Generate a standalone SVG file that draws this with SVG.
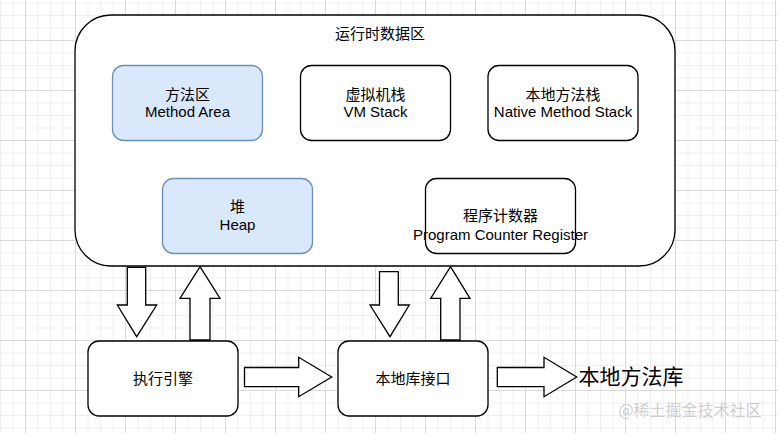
<svg xmlns="http://www.w3.org/2000/svg" width="778" height="433" viewBox="0 0 778 433">
<style>
.t{font-family:"Liberation Sans","Noto Sans CJK SC",Arial,sans-serif;font-size:15px;fill:#000;text-anchor:middle}
.box{fill:#fff;stroke:#000;stroke-width:1.3}
.blue{fill:#dae8fc;stroke:#6c8ebf;stroke-width:1.3}
.arr{fill:#fff;stroke:#000;stroke-width:1.3;stroke-linejoin:miter}
</style>
<defs>
<pattern id="grid" patternUnits="userSpaceOnUse" x="25" y="40" width="50" height="50">
<rect x="12.5" y="0" width="1" height="50" fill="#efefef"/>
<rect x="25" y="0" width="1" height="50" fill="#efefef"/>
<rect x="37.5" y="0" width="1" height="50" fill="#efefef"/>
<rect x="0" y="12.5" width="50" height="1" fill="#efefef"/>
<rect x="0" y="25" width="50" height="1" fill="#efefef"/>
<rect x="0" y="37.5" width="50" height="1" fill="#efefef"/>
<rect x="0" y="0" width="1" height="50" fill="#d9d9d9"/>
<rect x="0" y="0" width="50" height="1" fill="#d9d9d9"/>
</pattern>
</defs>
<rect width="778" height="433" fill="#fff"/>
<rect width="778" height="433" fill="url(#grid)"/>

<g id="runtime-data-area">
<rect class="box" x="75" y="15" width="600" height="251" rx="36" ry="36"/>
<text class="t" x="380" y="39">运行时数据区</text>
</g>
<g id="method-area">
<rect class="blue" x="112.5" y="65.5" width="150" height="75" rx="11" ry="11"/>
<text class="t" x="187.5" y="100">方法区</text>
<text class="t" x="187.5" y="117">Method Area</text>
</g>
<g id="vm-stack">
<rect class="box" x="300.5" y="65.5" width="150" height="75" rx="11" ry="11"/>
<text class="t" x="375.5" y="100">虚拟机栈</text>
<text class="t" x="375.5" y="117">VM Stack</text>
</g>
<g id="native-method-stack">
<rect class="box" x="488" y="65.5" width="150" height="75" rx="11" ry="11"/>
<text class="t" x="563" y="100">本地方法栈</text>
<text class="t" x="563" y="117">Native Method Stack</text>
</g>
<g id="heap">
<rect class="blue" x="162.5" y="178.5" width="150" height="75" rx="11" ry="11"/>
<text class="t" x="237.5" y="212">堆</text>
<text class="t" x="237.5" y="230">Heap</text>
</g>
<g id="program-counter">
<rect class="box" x="425.5" y="178.5" width="150" height="75" rx="11" ry="11"/>
<text class="t" x="500.5" y="221">程序计数器</text>
<text class="t" x="500.5" y="240">Program Counter Register</text>
</g>
<g id="execution-engine">
<rect class="box" x="88" y="341" width="150" height="75" rx="11" ry="11"/>
<text class="t" x="163" y="384">执行引擎</text>
</g>
<g id="native-interface">
<rect class="box" x="338" y="341" width="150" height="75" rx="11" ry="11"/>
<text class="t" x="413" y="384">本地库接口</text>
</g>
<g id="native-library">
<text x="631" y="384" style="font-family:'Liberation Sans','Noto Sans CJK SC',sans-serif;font-size:21px;fill:#000;text-anchor:middle">本地方法库</text>
</g>

<g id="connectors">
<polygon class="arr" points="127.3,267.3 145.7,267.3 145.7,305 156.7,305 136.7,336.7 117.3,305 127.3,305"/>
<polygon class="arr" points="200,266.7 220,298.3 210,298.3 210,340 190,340 190,298.3 180,298.3"/>
<polygon class="arr" points="379.5,271.7 398.3,271.7 398.3,305 409.3,305 390,336.7 370,305 379.5,305"/>
<polygon class="arr" points="450.5,266.7 470,298.3 460,298.3 460,340 440.7,340 440.7,298.3 430.7,298.3"/>
<polygon class="arr" points="244.5,367.5 298.7,367.5 298.7,357.3 331.7,377 298.7,396.7 298.7,386.7 244.5,386.7"/>
<polygon class="arr" points="497.3,367.5 544,367.5 544,357.3 576.7,377 544,396.7 544,386.7 497.3,386.7"/>
</g>

<text x="690" y="416" style="font-family:'Noto Sans CJK SC',sans-serif;font-size:16px;fill:#c9c9c9;fill-opacity:0.9;text-anchor:middle">@稀土掘金技术社区</text>
</svg>
